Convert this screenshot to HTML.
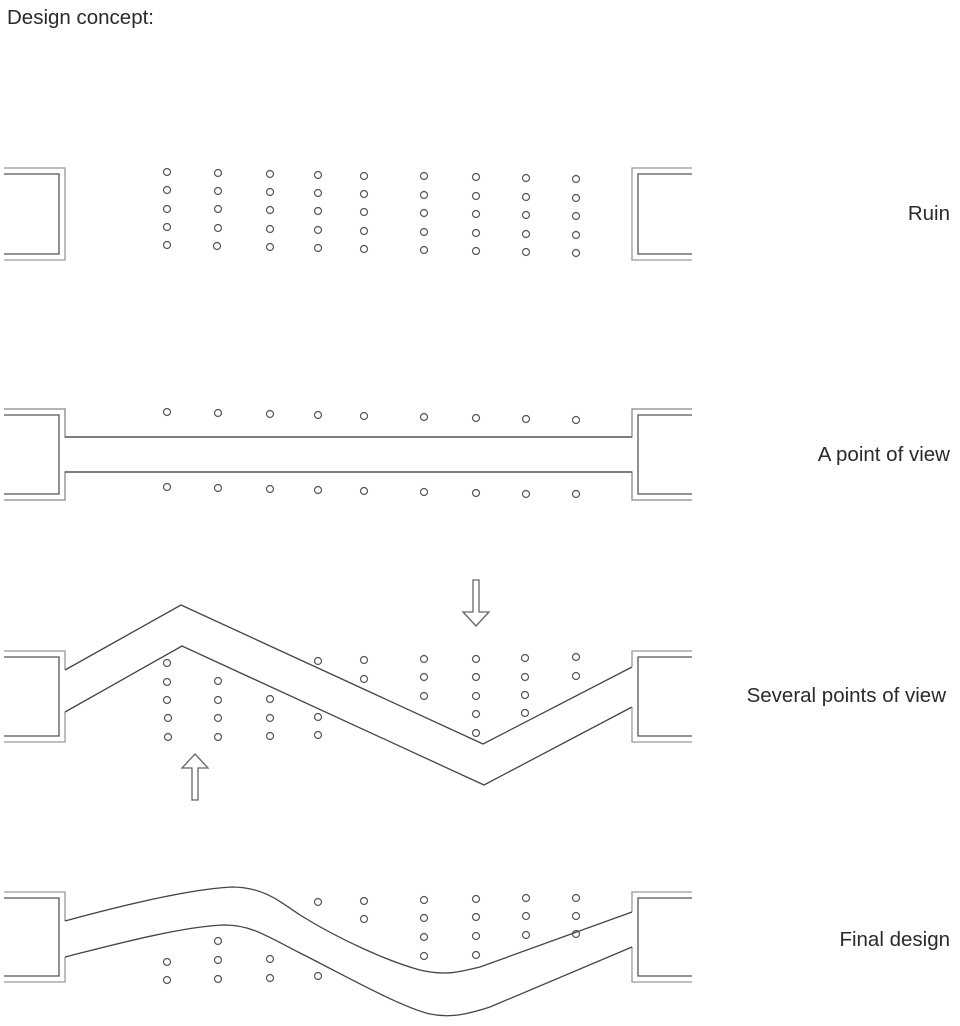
<!DOCTYPE html>
<html><head><meta charset="utf-8"><style>
html,body{margin:0;padding:0;background:#fff;width:960px;height:1026px;overflow:hidden}
svg{display:block}
text{font-family:"Liberation Sans",sans-serif;fill:#2a2a2a;font-size:20.5px}
</style></head><body>
<svg width="960" height="1026" viewBox="0 0 960 1026" xmlns="http://www.w3.org/2000/svg">
<text x="7" y="24">Design concept:</text>
<text x="950" y="220" text-anchor="end">Ruin</text>
<text x="950" y="461" text-anchor="end">A point of view</text>
<text x="946" y="702" text-anchor="end">Several points of view</text>
<text x="950" y="946" text-anchor="end">Final design</text>

<g fill="none" stroke="#555" stroke-width="1.3">
<path d="M4 168H65V260H4" stroke="#999"/>
<path d="M4 174H59V254H4"/>
<path d="M692 168H632V260H692" stroke="#999"/>
<path d="M692 174H638V254H692"/>

<path d="M4 409H65V437H632V409H692" stroke="#888"/>
<path d="M4 500H65V472H632V500H692" stroke="#888"/>
<path d="M4 415H59V494H4"/>
<path d="M692 415H638V494H692"/>
<path d="M65 437H632M65 472H632" stroke="#444"/>

<path d="M4 651H65V670" stroke="#999"/>
<path d="M4 742H65V712" stroke="#999"/>
<path d="M4 657H59V736H4"/>
<path d="M65 670L181 605L483 744L632 667" stroke="#444"/>
<path d="M632 667V651H692" stroke="#999"/>
<path d="M65 712L182 646L484 785L632 707" stroke="#444"/>
<path d="M632 707V742H692" stroke="#999"/>
<path d="M692 657H638V736H692"/>
<path d="M473 580V612H463L476 626L489 612H479V580Z" stroke="#666"/>
<path d="M192 800V768H182L195 754L208 768H198V800Z" stroke="#666"/>

<path d="M4 892H65V921" stroke="#999"/>
<path d="M4 982H65V957" stroke="#999"/>
<path d="M4 898H59V976H4"/>
<path d="M692 892H632V912" stroke="#999"/>
<path d="M692 982H632V947" stroke="#999"/>
<path d="M692 898H638V976H692"/>
<path d="M65 921C120 906 190 889 232 887C262 887 278 900 300 915C340 940 390 962 420 970C445 976 460 972 480 967L632 912" stroke="#444"/>
<path d="M65 957C120 943 185 926 225 925C250 925 265 935 300 953C340 973 400 1007 430 1014C450 1018 465 1015 490 1007L632 947" stroke="#444"/>
</g>

<g fill="none" stroke="#555" stroke-width="1.2">
<circle cx="167" cy="172" r="3.5"/><circle cx="167" cy="190" r="3.5"/><circle cx="167" cy="209" r="3.5"/><circle cx="167" cy="227" r="3.5"/><circle cx="167" cy="245" r="3.5"/>
<circle cx="218" cy="173" r="3.5"/><circle cx="218" cy="191" r="3.5"/><circle cx="218" cy="209" r="3.5"/><circle cx="218" cy="228" r="3.5"/><circle cx="217" cy="246" r="3.5"/>
<circle cx="270" cy="174" r="3.5"/><circle cx="270" cy="192" r="3.5"/><circle cx="270" cy="210" r="3.5"/><circle cx="270" cy="229" r="3.5"/><circle cx="270" cy="247" r="3.5"/>
<circle cx="318" cy="175" r="3.5"/><circle cx="318" cy="193" r="3.5"/><circle cx="318" cy="211" r="3.5"/><circle cx="318" cy="230" r="3.5"/><circle cx="318" cy="248" r="3.5"/>
<circle cx="364" cy="176" r="3.5"/><circle cx="364" cy="194" r="3.5"/><circle cx="364" cy="212" r="3.5"/><circle cx="364" cy="231" r="3.5"/><circle cx="364" cy="249" r="3.5"/>
<circle cx="424" cy="176" r="3.5"/><circle cx="424" cy="195" r="3.5"/><circle cx="424" cy="213" r="3.5"/><circle cx="424" cy="232" r="3.5"/><circle cx="424" cy="250" r="3.5"/>
<circle cx="476" cy="177" r="3.5"/><circle cx="476" cy="196" r="3.5"/><circle cx="476" cy="214" r="3.5"/><circle cx="476" cy="233" r="3.5"/><circle cx="476" cy="251" r="3.5"/>
<circle cx="526" cy="178" r="3.5"/><circle cx="526" cy="197" r="3.5"/><circle cx="526" cy="215" r="3.5"/><circle cx="526" cy="234" r="3.5"/><circle cx="526" cy="252" r="3.5"/>
<circle cx="576" cy="179" r="3.5"/><circle cx="576" cy="198" r="3.5"/><circle cx="576" cy="216" r="3.5"/><circle cx="576" cy="235" r="3.5"/><circle cx="576" cy="253" r="3.5"/>

<circle cx="167" cy="412" r="3.5"/><circle cx="218" cy="413" r="3.5"/><circle cx="270" cy="414" r="3.5"/><circle cx="318" cy="415" r="3.5"/><circle cx="364" cy="416" r="3.5"/><circle cx="424" cy="417" r="3.5"/><circle cx="476" cy="418" r="3.5"/><circle cx="526" cy="419" r="3.5"/><circle cx="576" cy="420" r="3.5"/>
<circle cx="167" cy="487" r="3.5"/><circle cx="218" cy="488" r="3.5"/><circle cx="270" cy="489" r="3.5"/><circle cx="318" cy="490" r="3.5"/><circle cx="364" cy="491" r="3.5"/><circle cx="424" cy="492" r="3.5"/><circle cx="476" cy="493" r="3.5"/><circle cx="526" cy="494" r="3.5"/><circle cx="576" cy="494" r="3.5"/>

<circle cx="167" cy="663" r="3.5"/><circle cx="167" cy="682" r="3.5"/><circle cx="167" cy="700" r="3.5"/><circle cx="168" cy="718" r="3.5"/><circle cx="168" cy="737" r="3.5"/>
<circle cx="218" cy="681" r="3.5"/><circle cx="218" cy="700" r="3.5"/><circle cx="218" cy="718" r="3.5"/><circle cx="218" cy="737" r="3.5"/>
<circle cx="270" cy="699" r="3.5"/><circle cx="270" cy="718" r="3.5"/><circle cx="270" cy="736" r="3.5"/>
<circle cx="318" cy="661" r="3.5"/><circle cx="318" cy="717" r="3.5"/><circle cx="318" cy="735" r="3.5"/>
<circle cx="364" cy="660" r="3.5"/><circle cx="364" cy="679" r="3.5"/>
<circle cx="424" cy="659" r="3.5"/><circle cx="424" cy="677" r="3.5"/><circle cx="424" cy="696" r="3.5"/>
<circle cx="476" cy="659" r="3.5"/><circle cx="476" cy="677" r="3.5"/><circle cx="476" cy="696" r="3.5"/><circle cx="476" cy="714" r="3.5"/><circle cx="476" cy="733" r="3.5"/>
<circle cx="525" cy="658" r="3.5"/><circle cx="525" cy="677" r="3.5"/><circle cx="525" cy="695" r="3.5"/><circle cx="525" cy="713" r="3.5"/>
<circle cx="576" cy="657" r="3.5"/><circle cx="576" cy="676" r="3.5"/>

<circle cx="167" cy="962" r="3.5"/><circle cx="167" cy="980" r="3.5"/>
<circle cx="218" cy="941" r="3.5"/><circle cx="218" cy="960" r="3.5"/><circle cx="218" cy="979" r="3.5"/>
<circle cx="270" cy="959" r="3.5"/><circle cx="270" cy="978" r="3.5"/>
<circle cx="318" cy="902" r="3.5"/><circle cx="318" cy="976" r="3.5"/>
<circle cx="364" cy="901" r="3.5"/><circle cx="364" cy="919" r="3.5"/>
<circle cx="424" cy="900" r="3.5"/><circle cx="424" cy="918" r="3.5"/><circle cx="424" cy="937" r="3.5"/><circle cx="424" cy="956" r="3.5"/>
<circle cx="476" cy="899" r="3.5"/><circle cx="476" cy="917" r="3.5"/><circle cx="476" cy="936" r="3.5"/><circle cx="476" cy="955" r="3.5"/>
<circle cx="526" cy="898" r="3.5"/><circle cx="526" cy="916" r="3.5"/><circle cx="526" cy="935" r="3.5"/>
<circle cx="576" cy="898" r="3.5"/><circle cx="576" cy="916" r="3.5"/><circle cx="576" cy="934" r="3.5"/>
</g>
</svg>
</body></html>
